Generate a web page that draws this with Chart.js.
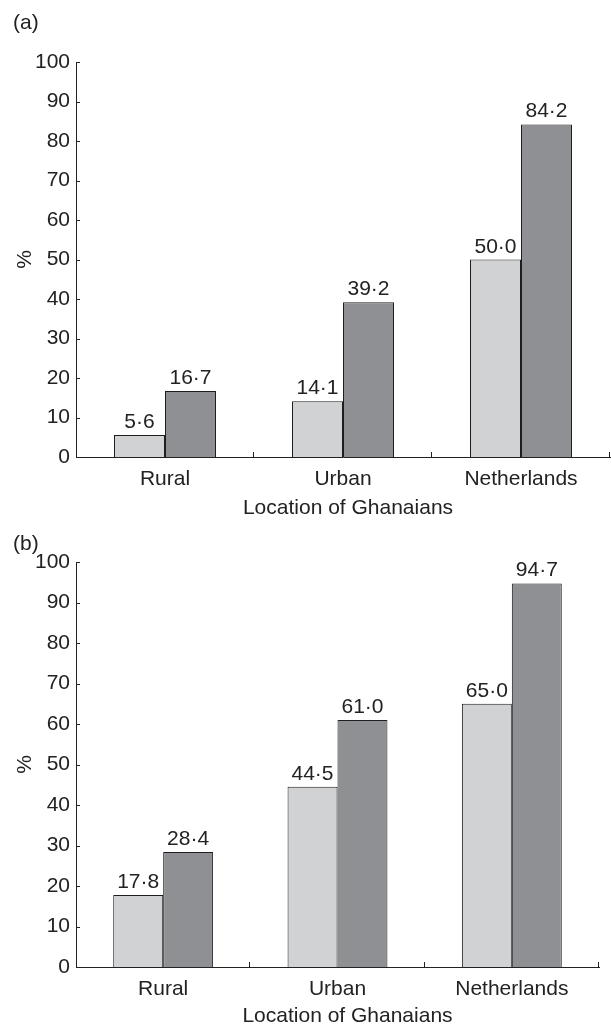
<!DOCTYPE html>
<html>
<head>
<meta charset="utf-8">
<script src="https://cdn.jsdelivr.net/npm/chart.js@4"></script>
<style>
  html, body { margin: 0; padding: 0; background: #fff; }
  body { width: 611px; height: 1027px; position: relative; overflow: hidden; }
  .panel { position: absolute; left: 0; width: 611px; }
  .tag { position: absolute; left: 13px; font: 21px "Liberation Sans", Arial, sans-serif; color: #222; line-height: 1; }
  canvas { display: block; }
</style>
</head>
<body>
<div class="panel" id="panelA" style="top:0;height:525px;"><canvas id="chartA" width="611" height="525"></canvas></div>
<div class="panel" id="panelB" style="top:525px;height:502px;"><canvas id="chartB" width="611" height="502"></canvas></div>
<div class="tag" style="top:11px;">(a)</div>
<div class="tag" style="top:532px;">(b)</div>
<script>
// Categories and values for the two panels
const categories = ['Rural', 'Urban', 'Netherlands'];
const panelALight = [5.6, 14.1, 50.0];
const panelADark = [16.7, 39.2, 84.2];
const panelBLight = [17.8, 44.5, 65.0];
const panelBDark = [28.4, 61.0, 94.7];
const yTicks = [0, 10, 20, 30, 40, 50, 60, 70, 80, 90, 100];
const xTitle = 'Location of Ghanaians';
const yTitle = '%';

const FONT = '"Liberation Sans", Arial, sans-serif';
const SIZE = 21;
const INK = '#222';
const LIGHT = '#d1d2d4';
const DARK = '#8f9094';

// Inward tick marks on both axes
const innerTicks = {
  id: 'innerTicks',
  afterDatasetsDraw(chart) {
    const {ctx, chartArea} = chart;
    const x = chart.scales.x, y = chart.scales.y;
    ctx.save();
    ctx.strokeStyle = INK;
    ctx.lineWidth = 1;
    ctx.beginPath();
    yTicks.forEach(v => {
      const py = Math.round(y.getPixelForValue(v)) + 0.5;
      ctx.moveTo(chartArea.left, py);
      ctx.lineTo(chartArea.left + 4, py);
    });
    const n = categories.length;
    for (let i = 1; i <= n; i++) {
      const px = Math.round(x.left + (x.right - x.left) * i / n) - 0.5;
      ctx.moveTo(px, chartArea.bottom);
      ctx.lineTo(px, chartArea.bottom - 5);
    }
    ctx.stroke();
    ctx.restore();
  }
};

// Value text above each bar, with a raised decimal point
const valueLabels = {
  id: 'valueLabels',
  afterDatasetsDraw(chart) {
    const {ctx} = chart;
    ctx.save();
    ctx.font = SIZE + 'px ' + FONT;
    ctx.fillStyle = INK;
    ctx.textAlign = 'center';
    ctx.textBaseline = 'alphabetic';
    chart.data.datasets.forEach((ds, di) => {
      chart.getDatasetMeta(di).data.forEach((bar, i) => {
        const txt = ds.data[i].toFixed(1).replace('.', '\u00b7');
        ctx.fillText(txt, bar.x, bar.y - 7);
      });
    });
    ctx.restore();
  }
};

// X-axis caption, set slightly right of the plot centre
const xCaption = {
  id: 'xCaption',
  afterDraw(chart, args, opts) {
    const {ctx, chartArea} = chart;
    ctx.save();
    ctx.font = SIZE + 'px ' + FONT;
    ctx.fillStyle = INK;
    ctx.textAlign = 'center';
    ctx.textBaseline = 'middle';
    ctx.fillText(xTitle, (chartArea.left + chartArea.right) / 2 + opts.shift, opts.y);
    ctx.restore();
  }
};

function makeChart(id, light, dark, top, right, areaBottom, captionY, captionShift) {
  const canvas = document.getElementById(id);
  const H = canvas.height;
  return new Chart(canvas, {
    type: 'bar',
    data: {
      labels: categories,
      datasets: [
        { label: 'Group 1', data: light, backgroundColor: LIGHT, borderColor: '#1e1e1e', borderWidth: 1 },
        { label: 'Group 2', data: dark, backgroundColor: DARK, borderColor: '#1e1e1e', borderWidth: 1 }
      ]
    },
    options: {
      responsive: false,
      animation: false,
      devicePixelRatio: 1,
      categoryPercentage: 0.573,
      barPercentage: 1.0,
      layout: { padding: { top: top, right: right, left: 0, bottom: 0 } },
      plugins: {
        legend: { display: false },
        tooltip: { enabled: false },
        xCaption: { y: captionY, shift: captionShift }
      },
      scales: {
        x: {
          grid: { display: false, drawTicks: false },
          border: { display: true, color: INK, width: 1 },
          ticks: { color: INK, font: { family: FONT, size: SIZE }, padding: 10, maxRotation: 0 },
          title: { display: false },
          afterFit(scale) { scale.height = H - areaBottom; }
        },
        y: {
          min: 0, max: 100,
          afterBuildTicks(scale) { scale.ticks = yTicks.map(v => ({ value: v })); },
          grid: { display: false, drawTicks: false },
          border: { display: true, color: INK, width: 1 },
          ticks: { color: INK, font: { family: FONT, size: SIZE }, padding: 6 },
          title: { display: true, text: yTitle, color: INK, font: { family: FONT, size: SIZE }, padding: { top: 13, bottom: 0 } },
          afterFit(scale) { scale.width = 76; }
        }
      }
    },
    plugins: [innerTicks, valueLabels, xCaption]
  });
}

makeChart('chartA', panelALight, panelADark, 62, 1, 457, 508, 5);
makeChart('chartB', panelBLight, panelBDark, 37, 12, 442, 491, 10);
</script>
</body>
</html>
